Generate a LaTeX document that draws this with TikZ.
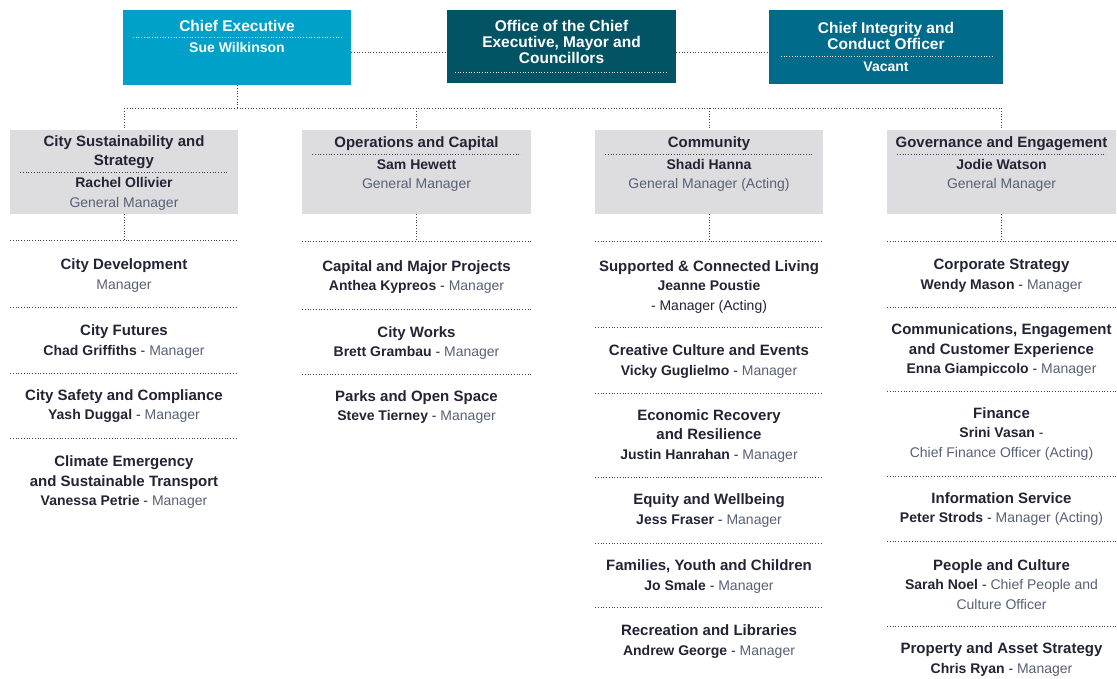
\documentclass[tikz,border=0pt]{standalone}
\usepackage{fontspec}
\setmainfont{Liberation Sans}
\definecolor{ceblue}{RGB}{0,161,200}
\definecolor{officeteal}{RGB}{2,84,101}
\definecolor{cioteal}{RGB}{0,107,138}
\definecolor{gmgrey}{RGB}{221,221,224}
\definecolor{ink}{RGB}{34,36,52}
\definecolor{rolegrey}{RGB}{88,96,116}
\definecolor{dotgrey}{RGB}{62,64,78}
\newcommand{\ttl}[1]{{\fontsize{15}{19.5}\selectfont\bfseries\color{ink}#1}}
\newcommand{\who}[1]{{\bfseries\color{ink}#1}}
\newcommand{\rl}[1]{{\color{rolegrey}#1}}

\begin{document}
\begin{tikzpicture}
  [x=1pt,y=-1pt,
   every node/.style={inner sep=0pt,align=center,text=ink,font=\fontsize{14}{19.5}\selectfont},
   topbox/.style={draw=none,minimum height=74pt},
   gmbox/.style={fill=gmgrey,minimum width=228pt,minimum height=84pt},
   toptitle/.style={text=white,font=\fontsize{15.5}{16}\selectfont\bfseries},
   topname/.style={text=white,font=\fontsize{14}{16}\selectfont\bfseries},
   link/.style={draw=dotgrey,line width=0.85pt,dash pattern=on 0.85pt off 1.9pt},
   sep/.style={link},
   wsep/.style={draw=white,line width=0.8pt,dash pattern=on 0.8pt off 1.9pt}]
  \useasboundingbox (0,0) rectangle (1117,678);

  \node[topbox,fill=ceblue,minimum width=228pt,minimum height=75pt] (ce) at (237,47.5) {};
  \node[topbox,fill=officeteal,minimum width=229pt,minimum height=73pt] (office) at (561.5,46.5) {};
  \node[topbox,fill=cioteal,minimum width=234pt,minimum height=74pt] (cio) at (886,47) {};
  \node[toptitle] (ce-t) at (237,25.5) {Chief Executive};
  \node[topname] (ce-n) at (237,47.5) {Sue Wilkinson};
  \node[toptitle] (office-t) at (561.5,41.5) {Office of the Chief\\Executive, Mayor and\\Councillors};
  \node[toptitle] (cio-t) at (886,35.5) {Chief Integrity and\\Conduct Officer};
  \node[topname] (cio-n) at (886,66.5) {Vacant};
  \draw[wsep] (133,37) -- (343,37);
  \draw[wsep] (455,72) -- (668,72);
  \draw[wsep] (781,56) -- (992,56);

  \node[gmbox] (g1) at (124,172) {};
  \node[gmbox,minimum width=229pt] (g2) at (416.5,172) {};
  \node[gmbox] (g3) at (709,172) {};
  \node[gmbox,minimum width=229pt] (g4) at (1001.5,172) {};

  \draw[link] ([yshift=-4.5pt]ce.east) -- ([yshift=-4.5pt]ce.east -| office.west);
  \draw[link] ([yshift=-5.5pt]office.east) -- ([yshift=-5.5pt]office.east -| cio.west);
  \coordinate (bus) at (237,108);
  \draw[link] (ce.south) -- (bus);
  \draw[link] (g1.north |- bus) -- (g4.north |- bus);
  \foreach \g in {g1,g2,g3,g4}
    \draw[link] (\g.north |- bus) -- (\g.north);

  \node (g1-t) at (124,152) {\ttl{City Sustainability and}\\\ttl{Strategy}};
  \node (g1-n) at (124,194) {\who{Rachel Ollivier}\\\rl{General Manager}};
  \node (g2-t) at (416.5,143.5) {\ttl{Operations and Capital}};
  \node (g2-n) at (416.5,175.5) {\who{Sam Hewett}\\\rl{General Manager}};
  \node (g3-t) at (709,143.5) {\ttl{Community}};
  \node (g3-n) at (709,175.5) {\who{Shadi Hanna}\\\rl{General Manager (Acting)}};
  \node (g4-t) at (1001.5,143.5) {\ttl{Governance and Engagement}};
  \node (g4-n) at (1001.5,175.5) {\who{Jodie Watson}\\\rl{General Manager}};
  \draw[sep] (20,172) -- (228,172);
  \foreach \l/\r in {312/521,605/813,897/1106}
    \draw[sep] (\l,154) -- (\r,154);

  \coordinate (c1) at (124,240);
  \coordinate (c2) at (416.5,241);
  \coordinate (c3) at (709,241);
  \coordinate (c4) at (1001.5,241);
  \foreach \g/\c in {g1/c1,g2/c2,g3/c3,g4/c4}
    \draw[link] (\g.south) -- (\c);

  \foreach \y in {240,307,373,438}
    \draw[sep] (10,\y) -- (238,\y);
  \foreach \y in {241,309,374}
    \draw[sep] (302,\y) -- (531,\y);
  \foreach \y in {241,327,393,477,543,607}
    \draw[sep] (595,\y) -- (823,\y);
  \foreach \y in {241,307,391,476,541,626}
    \draw[sep] (887,\y) -- (1116,\y);

  \node (cdev) at (124,275.5) {\ttl{City Development}\\\rl{Manager}};
  \node (cfut) at (124,341.5) {\ttl{City Futures}\\\who{Chad Griffiths} - \rl{Manager}};
  \node (csafe) at (124,406) {\ttl{City Safety and Compliance}\\\who{Yash Duggal} - \rl{Manager}};
  \node (clim) at (124,482.5) {\ttl{Climate Emergency}\\\ttl{and Sustainable Transport}\\\who{Vanessa Petrie} - \rl{Manager}};

  \node (capm) at (416.5,277) {\ttl{Capital and Major Projects}\\\who{Anthea Kypreos} - \rl{Manager}};
  \node (cwork) at (416.5,343) {\ttl{City Works}\\\who{Brett Grambau} - \rl{Manager}};
  \node (parks) at (416.5,407) {\ttl{Parks and Open Space}\\\who{Steve Tierney} - \rl{Manager}};

  \node (scl) at (709,287) {\ttl{Supported \& Connected Living}\\\who{Jeanne Poustie}\\- Manager (Acting)};
  \node (cce) at (709,361.5) {\ttl{Creative Culture and Events}\\\who{Vicky Guglielmo} - \rl{Manager}};
  \node (err) at (709,436) {\ttl{Economic Recovery}\\\ttl{and Resilience}\\\who{Justin Hanrahan} - \rl{Manager}};
  \node (eqw) at (709,510.5) {\ttl{Equity and Wellbeing}\\\who{Jess Fraser} - \rl{Manager}};
  \node (fyc) at (709,576.5) {\ttl{Families, Youth and Children}\\\who{Jo Smale} - \rl{Manager}};
  \node (recl) at (709,641.5) {\ttl{Recreation and Libraries}\\\who{Andrew George} - \rl{Manager}};

  \node (corp) at (1001.5,275.5) {\ttl{Corporate Strategy}\\\who{Wendy Mason} - \rl{Manager}};
  \node (comm) at (1001.5,350.5) {\ttl{Communications, Engagement}\\\ttl{and Customer Experience}\\\who{Enna Giampiccolo} - \rl{Manager}};
  \node (fin) at (1001.5,434) {\ttl{Finance}\\\who{Srini Vasan} -\\\rl{Chief Finance Officer (Acting)}};
  \node (info) at (1001.5,509) {\ttl{Information Service}\\\who{Peter Strods} - \rl{Manager (Acting)}};
  \node (pcul) at (1001.5,584.5) {\ttl{People and Culture}\\\who{Sarah Noel} - \rl{Chief People and}\\\rl{Culture Officer}};
  \node (prop) at (1001.5,659.5) {\ttl{Property and Asset Strategy}\\\who{Chris Ryan} - \rl{Manager}};
\end{tikzpicture}
\end{document}
